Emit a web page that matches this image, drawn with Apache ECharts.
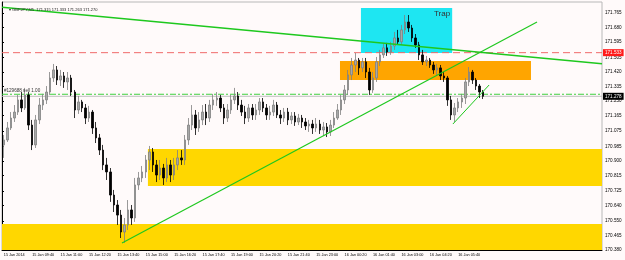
<!DOCTYPE html>
<html><head><meta charset="utf-8">
<script src="https://cdn.jsdelivr.net/npm/echarts@6/dist/echarts.min.js"></script>
<style>html,body{margin:0;padding:0;background:#fffafa}#c{width:625px;height:260px}</style>
</head><body><div id="c"></div>
<script>
// ---- data (GBPJPY M5 chart, aggregated to 10-minute candles) ----
const tickLabels = ["15 Jan 2014","15 Jan 09:40","15 Jan 11:00","15 Jan 12:20","15 Jan 13:40","15 Jan 15:00","15 Jan 16:20","15 Jan 17:40","15 Jan 19:00","15 Jan 20:20","15 Jan 21:40","15 Jan 23:00","16 Jan 00:20","16 Jan 01:40","16 Jan 03:00","16 Jan 04:20","16 Jan 05:40"];
const yTicks = [170.380,170.465,170.550,170.640,170.725,170.815,170.900,170.985,171.075,171.165,171.250,171.335,171.420,171.505,171.595,171.680,171.765];

const opens = [170.994,171.023,171.093,171.151,171.186,171.257,171.210,171.286,171.110,170.994,
171.140,171.227,171.257,171.303,171.385,171.432,171.373,171.397,171.362,171.385,
171.303,171.198,171.245,171.210,171.151,171.186,171.093,171.035,170.964,170.877,
170.836,170.701,170.643,170.584,170.485,170.526,170.614,170.567,170.760,170.801,
170.836,170.906,170.953,170.877,170.818,170.859,170.801,170.877,170.818,170.877,
170.918,170.906,171.023,171.110,171.169,171.093,171.140,171.186,171.151,171.227,
171.257,171.268,171.210,171.151,171.198,171.257,171.280,171.227,171.186,171.151,
171.210,171.169,171.198,171.245,171.210,171.169,171.186,171.227,171.169,171.151,
171.186,171.140,171.163,171.128,171.151,171.128,171.105,171.116,171.093,171.116,
171.081,171.099,171.070,171.110,171.151,171.198,171.257,171.315,171.403,171.461,
171.490,171.444,171.479,171.420,171.315,171.385,171.479,171.520,171.561,171.537,
171.572,171.619,171.596,171.666,171.712,171.677,171.619,171.578,171.520,171.479,
171.490,171.461,171.432,171.444,171.397,171.385,171.257,171.169,171.210,171.245,
171.268,171.362,171.420,171.373,171.338,171.303];
const closes = [171.023,171.093,171.151,171.186,171.257,171.210,171.286,171.110,170.994,171.140,
171.227,171.257,171.303,171.385,171.432,171.373,171.397,171.362,171.385,171.303,
171.198,171.245,171.210,171.151,171.186,171.093,171.035,170.964,170.877,170.836,
170.701,170.643,170.584,170.485,170.526,170.614,170.567,170.760,170.801,170.836,
170.906,170.953,170.877,170.818,170.859,170.801,170.877,170.818,170.877,170.918,
170.906,171.023,171.110,171.169,171.093,171.140,171.186,171.151,171.227,171.257,
171.268,171.210,171.151,171.198,171.257,171.280,171.227,171.186,171.151,171.210,
171.169,171.198,171.245,171.210,171.169,171.186,171.227,171.169,171.151,171.186,
171.140,171.163,171.128,171.151,171.128,171.105,171.116,171.093,171.116,171.081,
171.099,171.070,171.110,171.151,171.198,171.257,171.315,171.403,171.461,171.490,
171.444,171.479,171.420,171.315,171.385,171.479,171.520,171.561,171.537,171.572,
171.619,171.596,171.666,171.712,171.677,171.619,171.578,171.520,171.479,171.490,
171.461,171.432,171.444,171.397,171.385,171.257,171.169,171.210,171.245,171.268,
171.362,171.420,171.373,171.338,171.303,171.278];
const lows = [170.918,171.011,171.081,171.128,171.169,171.186,171.198,171.081,170.964,170.976,
171.116,171.198,171.233,171.286,171.362,171.344,171.338,171.327,171.315,171.280,
171.151,171.175,171.186,171.116,171.128,171.058,171.005,170.935,170.847,170.789,
170.661,170.602,170.526,170.450,170.421,170.497,170.526,170.544,170.731,170.777,
170.801,170.847,170.836,170.777,170.789,170.760,170.777,170.777,170.789,170.847,
170.877,170.877,170.994,171.081,171.052,171.070,171.110,171.110,171.128,171.198,
171.222,171.186,171.116,171.128,171.175,171.233,171.198,171.163,171.116,171.128,
171.140,171.140,171.169,171.186,171.140,171.140,171.163,171.151,171.116,171.128,
171.110,171.116,171.105,171.110,171.093,171.081,171.070,171.058,171.070,171.058,
171.046,171.040,171.046,171.093,171.140,171.169,171.233,171.286,171.373,171.420,
171.403,171.420,171.385,171.286,171.298,171.362,171.455,171.502,171.514,171.520,
171.549,171.578,171.578,171.642,171.654,171.596,171.561,171.490,171.461,171.455,
171.444,171.409,171.403,171.373,171.362,171.222,171.140,171.128,171.186,171.210,
171.233,171.338,171.350,171.315,171.268,171.262];
const highs = [171.052,171.128,171.186,171.227,171.286,171.303,171.327,171.303,171.140,171.169,
171.268,171.292,171.338,171.420,171.467,171.455,171.432,171.420,171.420,171.403,
171.315,171.280,171.257,171.233,171.222,171.198,171.128,171.058,170.994,170.918,
170.859,170.731,170.672,170.614,170.567,170.672,170.643,170.801,170.836,170.871,
170.935,170.988,170.976,170.906,170.906,170.883,170.918,170.906,170.918,170.964,
170.964,171.052,171.151,171.227,171.198,171.186,171.227,171.233,171.257,171.292,
171.303,171.286,171.233,171.233,171.286,171.327,171.303,171.257,171.222,171.233,
171.233,171.233,171.268,171.268,171.233,171.222,171.257,171.245,171.198,171.210,
171.210,171.186,171.186,171.175,171.169,171.151,171.140,171.140,171.151,171.140,
171.128,171.122,171.140,171.186,171.233,171.286,171.344,171.432,171.502,171.531,
171.502,171.502,171.502,171.444,171.420,171.508,171.549,171.584,171.590,171.596,
171.654,171.666,171.695,171.753,171.753,171.695,171.642,171.596,171.549,171.514,
171.502,171.479,171.467,171.461,171.420,171.397,171.280,171.239,171.268,171.292,
171.385,171.449,171.432,171.385,171.350,171.315];

// analysis objects in (bar-slot, price) units
const trendDown = [[0, 171.799], [169, 171.468]];
const trendUp = [[33.8, 170.421], [150.7, 171.712]];
const trendSmall = [[127.0, 171.116], [137.2, 171.344]];
const zoneYellowLow = [[0, 170.532], [169, 170.380]];
const zoneYellowMid = [[41.1, 170.970], [169, 170.754]];
const zoneOrange = [[95.2, 171.485], [149.0, 171.373]];
const zoneTrap = [[101.1, 171.794], [126.8, 171.531]];
const redLevel = 171.533;
const orderLevel = 171.290;
const bidLevel = 171.278;
const headerText = "GBPJPY,M5  171.315 171.333 171.263 171.270";
const orderText = "#129688 sell 1.00";

// ---- chart ----
const SLOTS = 169;
const cats = Array.from({length: SLOTS}, (_, i) => i);
const candles = opens.map((o, i) => [o, closes[i], lows[i], highs[i]]);
const FONT = 'Liberation Sans';
const lvlLabel = (bg) => ({show: true, position: 'end', backgroundColor: bg, color: '#fff', fontSize: 4.6, padding: [1, 2], distance: 1, fontFamily: FONT});

const chart = echarts.init(document.getElementById('c'));
chart.setOption({
  backgroundColor: '#fffafa',
  animation: false,
  title: {text: '\u25BE ' + headerText, left: 4, top: 3,
    textStyle: {fontSize: 4, color: '#222', fontWeight: 'normal', fontFamily: FONT}},
  grid: {left: 2, right: 23, top: 2, bottom: 10, show: true, borderColor: '#b8b8b8', borderWidth: 1, backgroundColor: 'transparent'},
  xAxis: [
    {type: 'category', data: cats, boundaryGap: true,
     axisLine: {lineStyle: {color: '#000', width: 1}},
     axisTick: {interval: 7, alignWithLabel: true, length: 3, lineStyle: {color: '#000'}},
     axisLabel: {interval: 7, formatter: (v, i) => tickLabels[i / 8] || '', align: 'left', fontSize: 3.8, color: '#000', margin: 3, fontFamily: FONT, hideOverlap: false},
     splitLine: {show: false}},
    {type: 'value', min: 0, max: SLOTS, show: false}
  ],
  yAxis: {type: 'value', position: 'right', min: 170.380, max: 171.829,
    axisLine: {show: true, lineStyle: {color: '#000'}},
    axisTick: {show: true, customValues: yTicks, length: 2, lineStyle: {color: '#000'}},
    axisLabel: {customValues: yTicks, formatter: v => v.toFixed(3), fontSize: 4.6, color: '#000', margin: 3, fontFamily: FONT},
    splitLine: {show: false}},
  series: [
    {type: 'line', xAxisIndex: 1, data: [], z: 1, silent: true,
     markArea: {silent: true, data: [
       [{coord: zoneYellowLow[0], itemStyle: {color: '#ffd700'}, label: {show: false}}, {coord: zoneYellowLow[1]}],
       [{coord: zoneYellowMid[0], itemStyle: {color: '#ffd700'}, label: {show: false}}, {coord: zoneYellowMid[1]}],
       [{coord: zoneOrange[0], itemStyle: {color: '#ffa500'}, label: {show: false}}, {coord: zoneOrange[1]}],
       [{name: 'Trap', coord: zoneTrap[0], itemStyle: {color: '#1ee6f2'},
         label: {show: true, position: 'insideTopRight', color: '#333', fontSize: 8, fontFamily: FONT, distance: 2}}, {coord: zoneTrap[1]}]
     ]}},
    {type: 'candlestick', data: candles, z: 3, barWidth: 2,
     itemStyle: {color: '#a8a8a8', color0: '#000', borderColor: '#808080', borderColor0: '#000', borderWidth: 0.8}},
    // horizontal levels
    {type: 'line', xAxisIndex: 1, data: [[0, bidLevel], [SLOTS, bidLevel]], symbol: 'none', z: 2, silent: true,
     lineStyle: {color: '#c0c0c0', width: 1},
     endLabel: Object.assign(lvlLabel('#000'), {formatter: bidLevel.toFixed(3)})},
    {type: 'line', xAxisIndex: 1, data: [[0, orderLevel], [SLOTS, orderLevel]], symbol: 'none', z: 2, silent: true,
     lineStyle: {color: '#3fd03f', width: 1, type: [6, 2, 2, 2]},
     markPoint: {symbol: 'rect', symbolSize: 1, silent: true, itemStyle: {color: 'rgba(0,0,0,0)'},
       data: [{coord: [0.4, orderLevel], label: {show: true, position: 'right', formatter: orderText, color: '#333', fontSize: 4.6, fontFamily: FONT, distance: 0, offset: [0, -3.5]}}]}},
    {type: 'line', xAxisIndex: 1, data: [[0, redLevel], [SLOTS, redLevel]], symbol: 'none', z: 2, silent: true,
     lineStyle: {color: '#f06a6a', width: 1, type: [7, 4]},
     endLabel: Object.assign(lvlLabel('#ff1a1a'), {formatter: redLevel.toFixed(3)})},
    // trendlines
    {type: 'line', xAxisIndex: 1, data: trendDown, symbol: 'none', z: 4, silent: true, lineStyle: {color: '#1ec81e', width: 1.5}},
    {type: 'line', xAxisIndex: 1, data: trendUp, symbol: 'none', z: 4, silent: true, lineStyle: {color: '#1ec81e', width: 1.2}},
    {type: 'line', xAxisIndex: 1, data: trendSmall, symbol: 'none', z: 4, silent: true, lineStyle: {color: '#1ec81e', width: 1}}
  ]
});
</script></body></html>
